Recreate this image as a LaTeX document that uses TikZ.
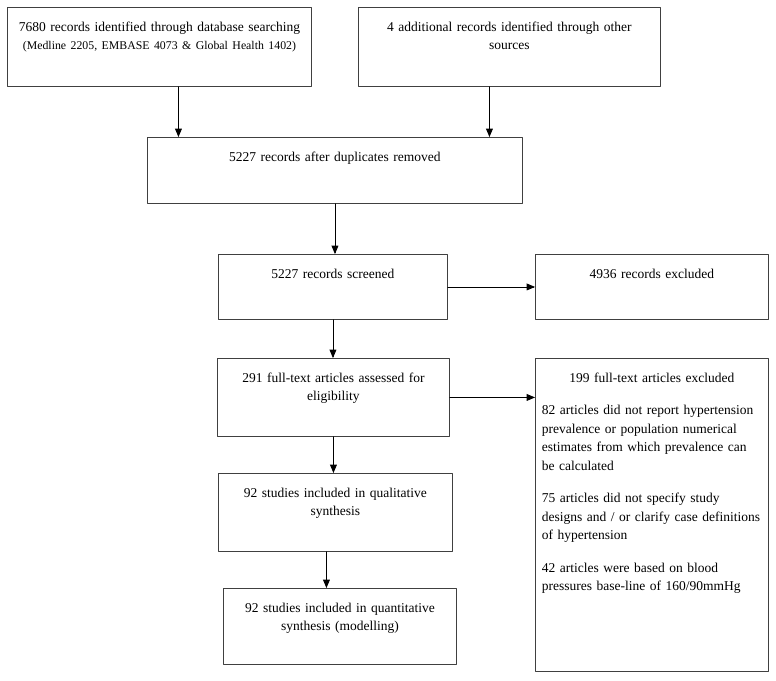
\documentclass[tikz,border=0pt]{standalone}
\usepackage{fontspec}
\setmainfont{Liberation Serif}[WordSpace=0.8]
\usetikzlibrary{arrows}

\begin{document}
\begin{tikzpicture}[line cap=round,line join=round,>=triangle 45,x=1pt,y=-1pt,
        stage/.style={draw=black!75,line width=0.9pt,anchor=north west,inner xsep=0pt,inner ysep=0pt,
            align=center,text height=24pt,font=\fontsize{13.5}{18.5}\selectfont},
        flow/.style={->,line width=0.9pt}]
        \useasboundingbox (0,0) rectangle (776,680);
        \node[stage,text width=304pt,text depth=55pt] (dbase) at (7,7) {7680 records identified through database searching\\{\fontsize{11.8}{18.5}\selectfont (Medline 2205, EMBASE 4073 \& Global Health 1402)}};
        \node[stage,text width=302pt,text depth=55pt] (other) at (358,7) {4 additional records identified through other\\sources};
        \node[stage,text width=375pt,text depth=42pt] (dups) at (147,137) {5227 records after duplicates removed};
        \node[stage,text width=229pt,text depth=41pt] (screen) at (218,254) {5227 records screened};
        \node[stage,text width=233pt,text depth=41pt] (excl) at (535,254) {4936 records excluded};
        \node[stage,text width=232pt,text depth=54pt] (full) at (217,358) {291 full-text articles assessed for\\eligibility};
        \node[stage,align=left,inner xsep=6.5pt,text width=220pt,text depth=289pt] (reasons) at (535,358) {\makebox[\linewidth]{199 full-text articles excluded}\\[14pt]
            82 articles did not report hypertension\\prevalence or population numerical\\estimates from which prevalence can\\be calculated\\[14pt]
            75 articles did not specify study\\designs and / or clarify case definitions\\of hypertension\\[14pt]
            42 articles were based on blood\\pressures base-line of 160/90mmHg};
        \node[stage,text width=234pt,text depth=54pt] (qual) at (218,473) {92 studies included in qualitative\\synthesis};
        \node[stage,text width=233pt,text depth=52pt] (quant) at (223,588) {92 studies included in quantitative\\synthesis (modelling)};
        \draw[flow] ([xshift=19pt]dbase.south) -- ([xshift=19pt]dbase.south |- dups.north);
        \draw[flow] ([xshift=-20pt]other.south) -- ([xshift=-20pt]other.south |- dups.north);
        \draw[flow] (dups.south) -- (dups.south |- screen.north);
        \draw[flow] (screen.south) -- (screen.south |- full.north);
        \draw[flow] (screen.east) -- (screen.east -| excl.west);
        \draw[flow] (full.east) -- (full.east -| reasons.west);
        \draw[flow] (full.south) -- (full.south |- qual.north);
        \draw[flow] ([xshift=-9pt]qual.south) -- ([xshift=-9pt]qual.south |- quant.north);
\end{tikzpicture}
\end{document}
